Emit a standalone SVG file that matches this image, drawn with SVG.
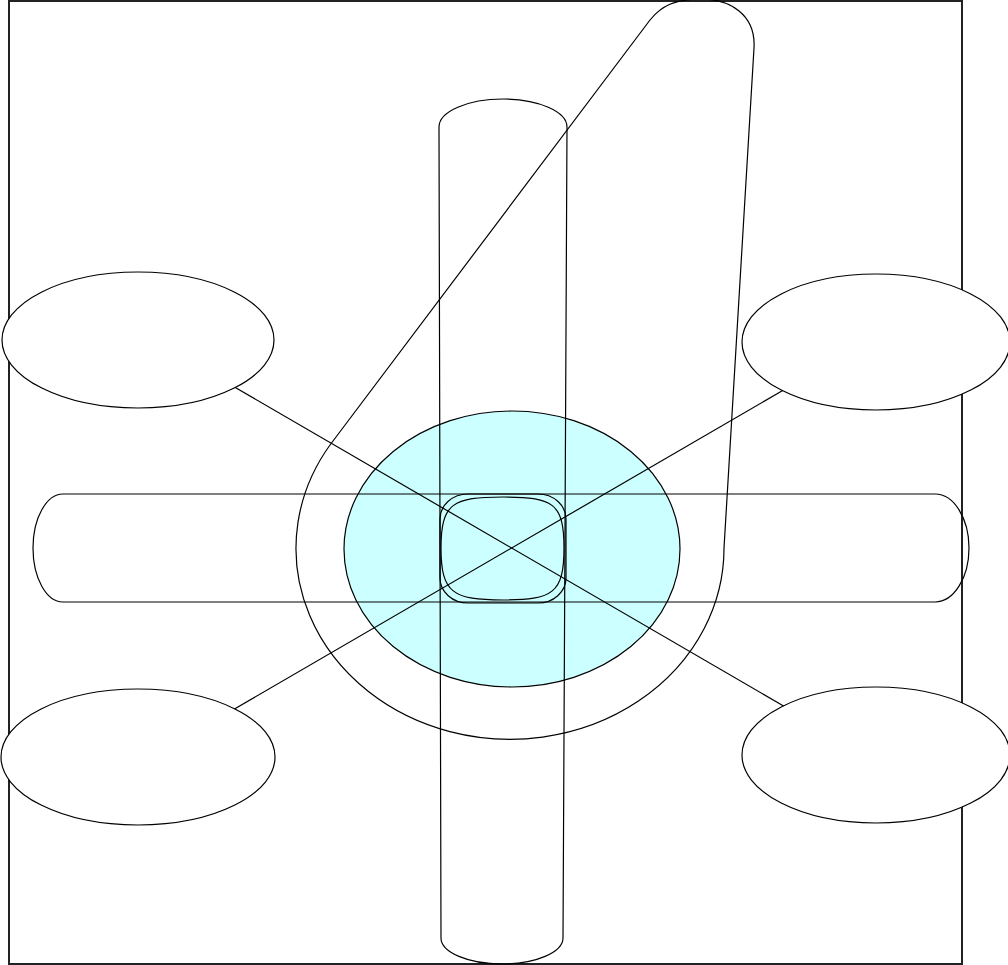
<svg xmlns="http://www.w3.org/2000/svg" width="1008" height="965" viewBox="0 0 1008 965">
<style>
.s{fill:none;stroke:#000;stroke-width:1.2}
.e{fill:#fff;stroke:#000;stroke-width:1.2}
</style>
<rect x="0" y="0" width="1008" height="965" fill="#fff"/>
<g id="frame"><rect x="9" y="1" width="953" height="963" fill="#fff" stroke="#222" stroke-width="2"/></g>
<g id="teardrop"><path class="s" d="M650,20 L330,445 A214,191 0 1 0 724,548 L754,48 C756,15 730,-2 698,-1 C675,0 662,5 650,20 Z"/></g>
<g id="core"><ellipse cx="512" cy="549" rx="168" ry="138" fill="#ccffff" stroke="#000" stroke-width="1.2"/></g>
<g id="cylinder"><path class="s" d="M439,127 A64,28 0 0 1 567,127 L563,938 A61,26 0 0 1 441,938 Z"/></g>
<g id="capsule"><path class="s" d="M63,494 H935 A34,54 0 0 1 935,602 H63 A30,54 0 0 1 63,494 Z"/></g>
<g id="square1"><rect class="s" x="440" y="494" width="126" height="109" rx="28" ry="25"/></g>
<g id="square2"><path class="s" d="M441,548 C441,503 453,497 503,497 C553,497 564,503 564,548 C564,593 553,600 503,600 C453,600 441,593 441,548 Z"/></g>
<g id="connectors">
<line class="s" x1="231" y1="385" x2="787" y2="708"/>
<line class="s" x1="787" y1="388" x2="231" y2="711"/>
</g>
<g id="ellipse-tl"><ellipse class="e" cx="138" cy="340" rx="136" ry="68"/></g>
<g id="ellipse-tr"><ellipse class="e" cx="876" cy="342" rx="134" ry="68"/></g>
<g id="ellipse-bl"><ellipse class="e" cx="138" cy="757" rx="137" ry="68"/></g>
<g id="ellipse-br"><ellipse class="e" cx="876" cy="755" rx="134" ry="68"/></g>
</svg>
